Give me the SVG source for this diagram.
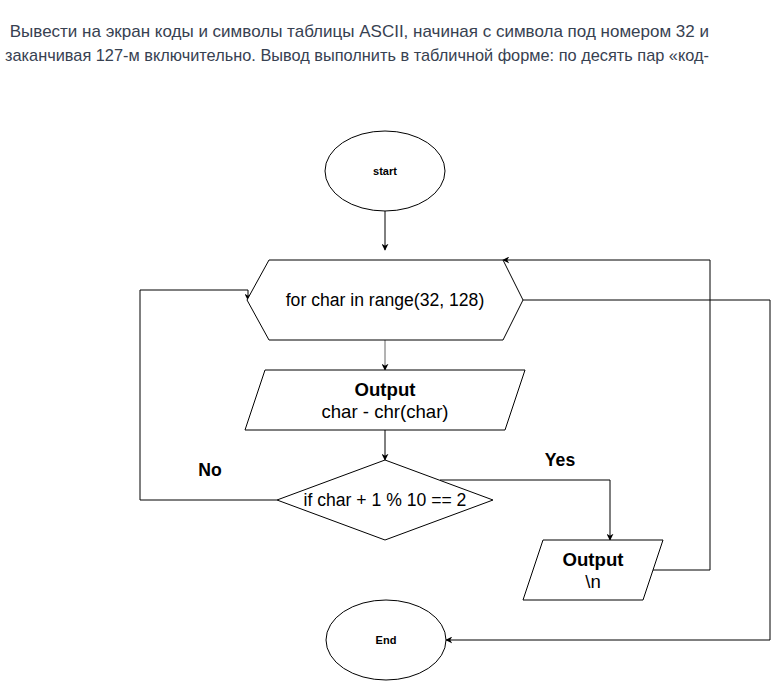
<svg xmlns="http://www.w3.org/2000/svg" width="779" height="681" viewBox="0 0 779 681">
<defs>
<marker id="arr" viewBox="0 0 10 10" refX="9" refY="5" markerWidth="7" markerHeight="7" orient="auto" markerUnits="userSpaceOnUse">
<path d="M0,0 L10,5 L0,10 L3,5 z" fill="#000"/>
</marker>
<style>
.shape{fill:#fff;stroke:#000;stroke-width:1}
.edge{fill:none;stroke:#000;stroke-width:1;marker-end:url(#arr)}
.t{font-family:"Liberation Sans",Arial,sans-serif;font-size:17.6px;fill:#000;text-anchor:middle;dominant-baseline:central}
.o{font-size:18.6px}
.b{font-weight:bold}
.s{font-size:11px;font-weight:bold}
.title{font-family:"Liberation Sans",Arial,sans-serif;font-size:17px;fill:#374151}
</style>
</defs>
<rect width="779" height="681" fill="#fff"/>
<g id="title">
<text class="title" x="5" y="37" xml:space="preserve" textLength="704" lengthAdjust="spacingAndGlyphs"> Вывести на экран коды и символы таблицы ASCII, начиная с символа под номером 32 и</text>
<text class="title" x="5" y="61" textLength="704" lengthAdjust="spacingAndGlyphs">заканчивая 127-м включительно. Вывод выполнить в табличной форме: по десять пар «код-</text>
</g>
<g id="connectors">
<path class="edge" d="M385,211 L385,250"/>
<path class="edge" d="M385,340 L385,370" style="stroke:#666"/>
<path class="edge" d="M385,430 L385,460"/>
<path class="edge" d="M440,480 L610,480 L610,540"/>
<path class="edge" d="M653,570 L710,570 L710,260 L503,260"/>
<path class="edge" d="M277,500 L140,500 L140,290 L248,290 L248,300"/>
<path class="edge" d="M523,300 L770,300 L770,640 L446,640"/>
</g>
<g id="start">
<ellipse class="shape" cx="385" cy="171" rx="60" ry="40"/>
<text class="t s" x="385" y="171">start</text>
</g>
<g id="loop">
<polygon class="shape" points="269,260 503,260 523,300 503,340 269,340 247,300"/>
<text class="t" x="385" y="300">for char in range(32, 128)</text>
</g>
<g id="output1">
<polygon class="shape" points="265,370 525,370 505,430 245,430"/>
<text class="t o b" x="385" y="389">Output</text>
<text class="t o" x="385" y="411">char - chr(char)</text>
</g>
<g id="decision">
<polygon class="shape" points="385,460 493,500 385,540 277,500"/>
<text class="t" x="385" y="500">if char + 1 % 10 == 2</text>
</g>
<g id="label-no">
<text class="t b" x="210" y="470">No</text>
</g>
<g id="label-yes">
<text class="t b" x="560" y="460">Yes</text>
</g>
<g id="output2">
<polygon class="shape" points="543,540 663,540 643,600 523,600"/>
<text class="t o b" x="593" y="559">Output</text>
<text class="t o" x="593" y="581">\n</text>
</g>
<g id="end">
<ellipse class="shape" cx="386" cy="640" rx="60" ry="40"/>
<text class="t s" x="386" y="640">End</text>
</g>
</svg>
